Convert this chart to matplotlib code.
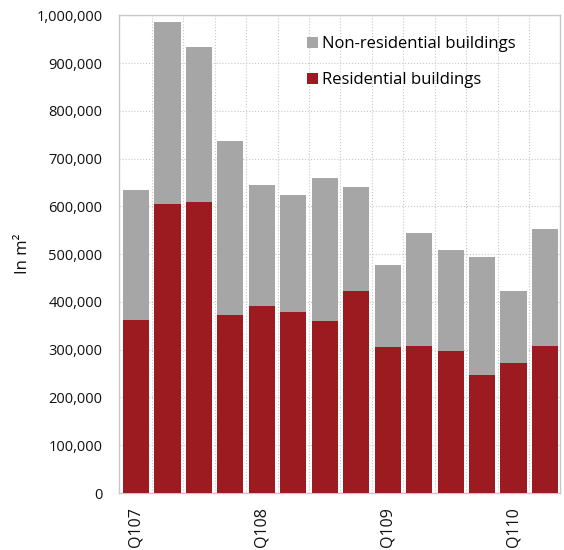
import matplotlib.pyplot as plt
from matplotlib.ticker import FuncFormatter

plt.rcParams['font.family'] = ['Open Sans', 'DejaVu Sans']

# quarterly floor area of completed buildings, Q1 2007 - Q2 2010
quarters = ['Q107', '', '', '', 'Q108', '', '', '', 'Q109', '', '', '', 'Q110', '']
residential = [363000, 606000, 610000, 373000, 392000, 379000, 361000,
               423000, 305000, 307000, 298000, 248000, 273000, 307000]
total = [635000, 987000, 934000, 738000, 645000, 623000, 660000,
         641000, 477000, 545000, 508000, 495000, 423000, 553000]
non_residential = [t - r for t, r in zip(total, residential)]

red = '#9b1b20'
grey = '#a6a6a6'

fig = plt.figure(figsize=(5.64, 5.5), dpi=100)
ax = fig.add_axes([0.211, 0.1036, 0.782, 0.8684])

x = list(range(len(quarters)))
ax.bar(x, residential, width=0.83, color=red, label='Residential buildings', zorder=3)
ax.bar(x, non_residential, width=0.83, bottom=residential, color=grey,
       label='Non-residential buildings', zorder=3)

ax.set_xlim(-0.54, len(quarters) - 0.52)
ax.set_ylim(0, 1000000)
ax.set_yticks(range(0, 1000001, 100000))
ax.yaxis.set_major_formatter(FuncFormatter(lambda v, p: '{:,.0f}'.format(v)))
ax.set_xticks(x)
ax.set_xticklabels(quarters, rotation=90, fontsize=11.5)
ax.tick_params(axis='y', length=0, pad=12, labelsize=10.5, labelcolor='#111111')
ax.tick_params(axis='x', length=0, pad=10, labelcolor='#111111')

# dotted grid: horizontal at every tick, vertical between the bars
ax.set_xticks([i + 0.5 for i in x[:-1]], minor=True)
ax.tick_params(axis='x', which='minor', length=0)
ax.grid(axis='y', which='major', linestyle=':', color='#c8c8c8', linewidth=0.8, zorder=0)
ax.grid(axis='x', which='minor', linestyle=':', color='#c8c8c8', linewidth=0.8, zorder=0)

for s in ax.spines.values():
    s.set_color('#c8c8c8')
    s.set_linewidth(1.0)

ax.set_ylabel('In m²', fontsize=12, labelpad=4, color='#111111')

handles, labels = ax.get_legend_handles_labels()
ax.legend(handles[::-1], labels[::-1], loc='upper left', bbox_to_anchor=(0.41, 0.97),
          frameon=False, fontsize=12, handlelength=0.7, handleheight=0.7,
          handletextpad=0.25, labelspacing=1.2, borderaxespad=0)

fig.savefig('out.png', dpi=100)
